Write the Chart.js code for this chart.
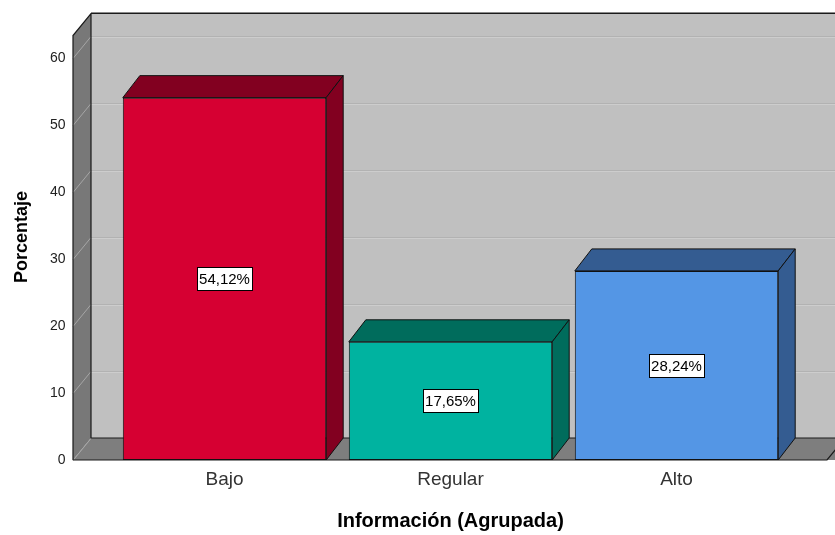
<!DOCTYPE html>
<html>
<head>
<meta charset="utf-8">
<script src="https://cdn.jsdelivr.net/npm/chart.js@4/dist/chart.umd.min.js"></script>
<style>
  html, body { margin: 0; padding: 0; background: #ffffff; }
  #wrap { width: 835px; height: 535px; position: relative; }
</style>
</head>
<body>
<div id="wrap"><canvas id="c"></canvas></div>
<script>
// ---- data ----
const categories = ['Bajo', 'Regular', 'Alto'];
const percentages = [54.12, 17.65, 28.24];
const yTickStep = 10;
const yMax = 63.4;
const xTitle = 'Información (Agrupada)';
const yTitle = 'Porcentaje';

// ---- styles ----
const frontColors = ['rgb(214,0,50)', 'rgb(0,179,160)', 'rgb(84,150,229)'];
const darkColors  = ['rgb(130,0,32)', 'rgb(0,108,92)', 'rgb(52,92,145)'];
const FONT = '"Liberation Sans", Arial, sans-serif';

const threeD = {
  id: 'threeD',
  beforeDatasetsDraw(chart) {
    const { ctx, chartArea: a, scales: { y } } = chart;
    const W = chart.width;
    const DX = 18, DY = -22;
    const L = a.left - 38.5, R = a.right + 37.5;
    const T = a.top, B = a.bottom;
    ctx.save();
    // back wall
    ctx.fillStyle = '#c0c0c0';
    ctx.fillRect(L + DX, T + DY, W - (L + DX), B - T);
    // left wall
    ctx.fillStyle = '#787878';
    ctx.beginPath();
    ctx.moveTo(L, T); ctx.lineTo(L + DX, T + DY); ctx.lineTo(L + DX, B + DY); ctx.lineTo(L, B);
    ctx.closePath(); ctx.fill();
    // floor
    ctx.fillStyle = '#7e7e7e';
    ctx.beginPath();
    ctx.moveTo(L, B); ctx.lineTo(L + DX, B + DY); ctx.lineTo(R + DX + 20, B + DY); ctx.lineTo(R + 20, B);
    ctx.closePath(); ctx.fill();
    // gridlines
    ctx.lineWidth = 1;
    y.ticks.forEach(t => {
      const py = Math.round(y.getPixelForValue(t.value)) + 0.5;
      if (t.value > 0) {
        ctx.strokeStyle = '#b2b2b2';
        ctx.beginPath(); ctx.moveTo(L + DX, py + DY); ctx.lineTo(W, py + DY); ctx.stroke();
        ctx.strokeStyle = '#cdcdcd';
        ctx.beginPath(); ctx.moveTo(L + DX, py + DY + 1); ctx.lineTo(W, py + DY + 1); ctx.stroke();
      }
      ctx.strokeStyle = '#a6a6a6';
      ctx.beginPath(); ctx.moveTo(L, py); ctx.lineTo(L + DX, py + DY); ctx.stroke();
    });
    // edges
    ctx.strokeStyle = '#1a1a1a';
    ctx.lineWidth = 1.2;
    ctx.beginPath();
    ctx.moveTo(L, B); ctx.lineTo(L, T); ctx.lineTo(L + DX, T + DY); ctx.lineTo(W, T + DY);
    ctx.moveTo(L + DX, T + DY); ctx.lineTo(L + DX, B + DY); ctx.lineTo(W, B + DY);
    ctx.moveTo(L, B); ctx.lineTo(R, B); ctx.lineTo(R + DX, B + DY);
    ctx.stroke();
    ctx.strokeStyle = '#8a8a8a';
    ctx.lineWidth = 1;
    ctx.beginPath(); ctx.moveTo(L + DX, T + DY - 1); ctx.lineTo(W, T + DY - 1); ctx.stroke();

    // bar top and side faces
    const BDX = 17, BDY = -22;
    const meta = chart.getDatasetMeta(0);
    ctx.strokeStyle = '#111';
    ctx.lineWidth = 1;
    meta.data.forEach((el, i) => {
      const l = el.x - el.width / 2, r = el.x + el.width / 2, t = el.y, b = el.base;
      ctx.fillStyle = darkColors[i];
      ctx.beginPath();
      ctx.moveTo(l, t); ctx.lineTo(l + BDX, t + BDY); ctx.lineTo(r + BDX, t + BDY); ctx.lineTo(r, t);
      ctx.closePath(); ctx.fill(); ctx.stroke();
      ctx.beginPath();
      ctx.moveTo(r, t); ctx.lineTo(r + BDX, t + BDY); ctx.lineTo(r + BDX, b + BDY); ctx.lineTo(r, b);
      ctx.closePath(); ctx.fill(); ctx.stroke();
    });
    ctx.restore();
  },
  afterDatasetsDraw(chart) {
    const { ctx } = chart;
    const meta = chart.getDatasetMeta(0);
    ctx.save();
    ctx.font = '15px ' + FONT;
    ctx.textAlign = 'center';
    ctx.textBaseline = 'middle';
    meta.data.forEach((el, i) => {
      const cx = el.x, cy = (el.y + el.base) / 2;
      const txt = percentages[i].toFixed(2).replace('.', ',') + '%';
      const w = 55, h = 23;
      ctx.fillStyle = '#ffffff';
      ctx.fillRect(Math.round(cx - w / 2) + 0.5, Math.round(cy - h / 2) + 0.5, w, h);
      ctx.strokeStyle = '#000';
      ctx.lineWidth = 1;
      ctx.strokeRect(Math.round(cx - w / 2) + 0.5, Math.round(cy - h / 2) + 0.5, w, h);
      ctx.fillStyle = '#000';
      ctx.fillText(txt, cx, cy + 1);
    });
    // y axis title
    ctx.translate(22, 237);
    ctx.rotate(-Math.PI / 2);
    ctx.font = 'bold 18px ' + FONT;
    ctx.fillStyle = '#000';
    ctx.fillText(yTitle, 0, 0);
    ctx.restore();
  }
};

new Chart(document.getElementById('c'), {
  type: 'bar',
  data: {
    labels: categories,
    datasets: [{
      data: percentages,
      backgroundColor: frontColors,
      borderColor: '#111',
      borderWidth: 1,
      borderSkipped: false,
      barPercentage: 0.9,
      categoryPercentage: 1.0
    }]
  },
  options: {
    responsive: true,
    maintainAspectRatio: false,
    animation: false,
    layout: { padding: { left: 0, right: 45.5, top: 35.5, bottom: 0 } },
    plugins: { legend: { display: false }, tooltip: { enabled: false } },
    scales: {
      x: {
        grid: { display: false, drawTicks: false },
        border: { display: false },
        ticks: { font: { family: FONT, size: 19 }, color: '#333', padding: 8 },
        title: { display: true, text: xTitle, font: { family: FONT, size: 20, weight: 'bold' }, color: '#000', padding: { top: 0, bottom: 2 } },
        afterFit(s) { s.height = 75; }
      },
      y: {
        min: 0,
        max: yMax,
        grid: { display: false, drawTicks: false },
        border: { display: false },
        ticks: { stepSize: yTickStep, includeBounds: false, font: { family: FONT, size: 14 }, color: '#222', padding: 46 },
        afterFit(s) { s.width = 111.5; s.paddingTop = 0; s.paddingBottom = 0; }
      }
    }
  },
  plugins: [threeD]
});
</script>
</body>
</html>
